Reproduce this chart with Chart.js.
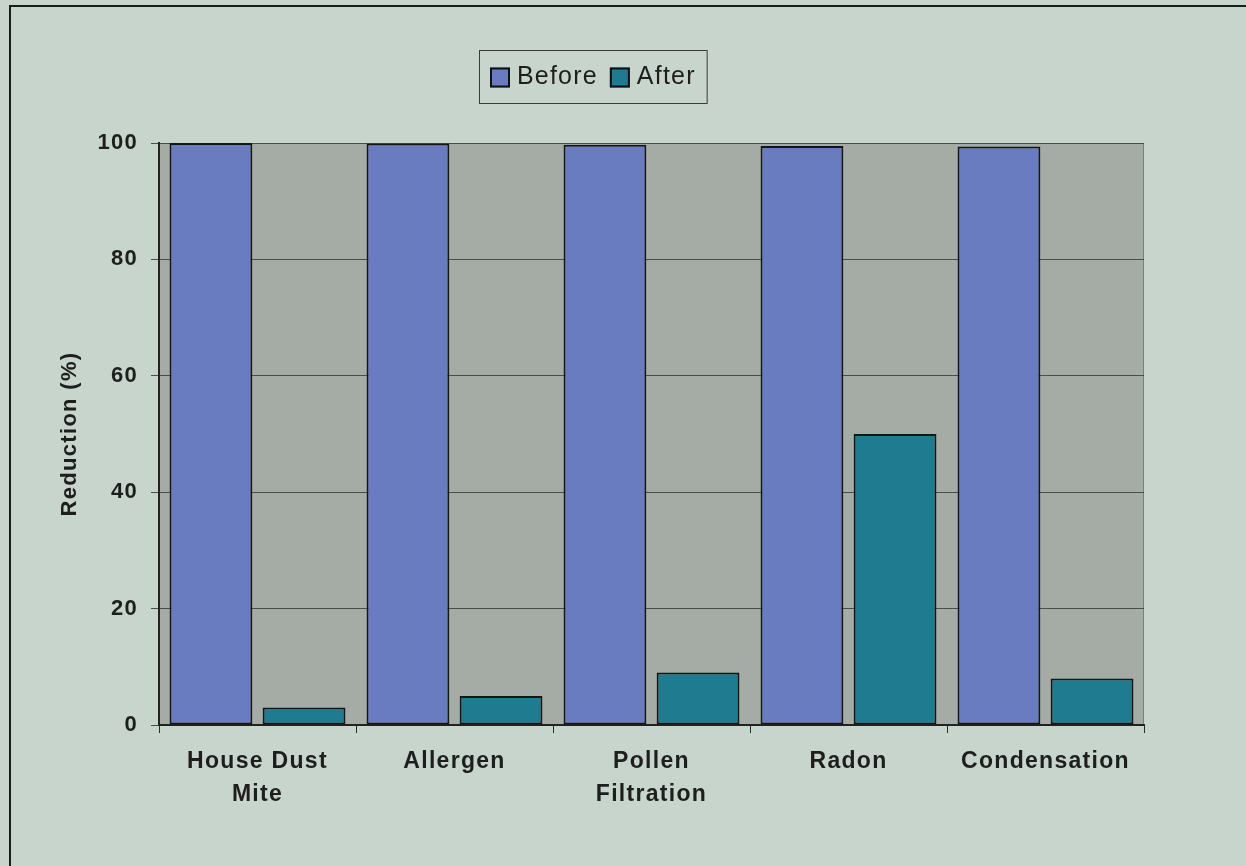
<!DOCTYPE html>
<html>
<head>
<meta charset="utf-8">
<title>Reduction (%)</title>
<script src="https://cdn.jsdelivr.net/npm/chart.js@4/dist/chart.umd.min.js"></script>
<style>
  html, body { margin: 0; padding: 0; background: #c8d5cd; }
  #wrap { width: 1246px; height: 866px; }
</style>
</head>
<body>
<div id="wrap"><canvas id="chart"></canvas></div>
<script>
// --- Data ---
const categories = [['House Dust', 'Mite'], 'Allergen', ['Pollen', 'Filtration'], 'Radon', 'Condensation'];
const beforeValues = [100, 99.9, 99.7, 99.5, 99.4];
const afterValues = [3, 5, 9, 50, 8];
const yTicks = [0, 20, 40, 60, 80, 100];

const FONT = "'Liberation Sans', Arial, sans-serif";
const TEXT = '#1e1e1e';

// Excel-ish text is a bit spread out, set letter spacing on the context
const spacing = {
    id: 'spacing',
    beforeLayout(chart) { chart.ctx.letterSpacing = '1.3px'; },
    beforeDraw(chart) { chart.ctx.letterSpacing = '1.3px'; }
};

// Outer frame + gray plot area
const frame = {
    id: 'frame',
    beforeDraw(chart) {
        const ctx = chart.ctx;
        const a = chart.chartArea;
        ctx.save();
        ctx.strokeStyle = '#1c1c1c';
        ctx.lineWidth = 2;
        ctx.beginPath();
        ctx.moveTo(10, chart.height + 5);
        ctx.lineTo(10, 6);
        ctx.lineTo(chart.width + 5, 6);
        ctx.stroke();

        ctx.fillStyle = '#a5aca6';
        ctx.fillRect(a.left, a.top, a.right - a.left, a.bottom - a.top);
        ctx.strokeStyle = '#7a7f7b';
        ctx.lineWidth = 1;
        ctx.strokeRect(a.left + 0.5, a.top + 0.5, a.right - a.left - 1, a.bottom - a.top - 1);
        ctx.restore();
    }
};

// Boxed legend, placed like the original
const boxLegend = {
    id: 'boxLegend',
    afterDraw(chart) {
        const ctx = chart.ctx;
        ctx.save();
        ctx.letterSpacing = '1.2px';
        ctx.font = '25px ' + FONT;
        ctx.textBaseline = 'middle';
        const sw = 20, gapSw = 7, gapItem = 12, padX = 11;
        const items = chart.data.datasets.map(ds => ({
            label: ds.label, color: ds.backgroundColor, w: ctx.measureText(ds.label).width
        }));
        let total = padX * 2;
        items.forEach((it, i) => { total += sw + gapSw + it.w + (i ? gapItem : 0); });
        const cx = 593, top = 50, h = 53;
        let x = Math.round(cx - total / 2);
        ctx.strokeStyle = '#3a3a3a';
        ctx.lineWidth = 1;
        ctx.strokeRect(x + 0.5, top + 0.5, total, h);
        x += padX;
        const cy = top + h / 2 + 1;
        items.forEach((it, i) => {
            if (i) x += gapItem;
            ctx.fillStyle = it.color;
            ctx.fillRect(x, cy - sw / 2, sw, sw);
            ctx.strokeStyle = '#111';
            ctx.lineWidth = 2;
            ctx.strokeRect(x + 1, cy - sw / 2 + 1, sw - 2, sw - 2);
            x += sw + gapSw;
            ctx.fillStyle = TEXT;
            ctx.fillText(it.label, x, cy);
            x += it.w;
        });
        ctx.restore();
    }
};

const ctx = document.getElementById('chart').getContext('2d');
new Chart(ctx, {
    type: 'bar',
    data: {
        labels: categories,
        datasets: [
            {
                label: 'Before',
                data: beforeValues,
                backgroundColor: '#6a7cc0',
                borderColor: '#151515',
                borderWidth: 2,
                borderSkipped: false
            },
            {
                label: 'After',
                data: afterValues,
                backgroundColor: '#1f7c90',
                borderColor: '#151515',
                borderWidth: 2,
                borderSkipped: false
            }
        ]
    },
    options: {
        responsive: true,
        maintainAspectRatio: false,
        animation: false,
        categoryPercentage: 0.945,
        barPercentage: 0.89,
        layout: { padding: { top: 143, right: 102, bottom: 0, left: 0 } },
        plugins: {
            legend: { display: false },
            tooltip: { enabled: false }
        },
        scales: {
            x: {
                grid: {
                    drawOnChartArea: false,
                    drawTicks: true,
                    tickLength: 8,
                    color: '#2a2a2a'
                },
                border: { color: '#222', width: 2 },
                ticks: {
                    color: TEXT,
                    padding: 12,
                    maxRotation: 0,
                    autoSkip: false,
                    font: { family: FONT, size: 23, weight: 'bold', lineHeight: 1.45 }
                },
                afterFit(scale) { scale.height = 141; }
            },
            y: {
                min: 0,
                max: 100,
                afterBuildTicks(scale) { scale.ticks = yTicks.map(v => ({ value: v })); },
                grid: {
                    color: '#4a4d4a',
                    lineWidth: 1,
                    tickLength: 8
                },
                border: { color: '#222', width: 2 },
                ticks: {
                    color: TEXT,
                    padding: 13,
                    font: { family: FONT, size: 22, weight: 'bold' }
                },
                title: {
                    display: true,
                    text: 'Reduction (%)',
                    color: TEXT,
                    padding: { top: 57, bottom: 0 },
                    font: { family: FONT, size: 22, weight: 'bold' }
                },
                afterFit(scale) { scale.width = 159; }
            }
        }
    },
    plugins: [spacing, frame, boxLegend]
});
</script>
</body>
</html>
